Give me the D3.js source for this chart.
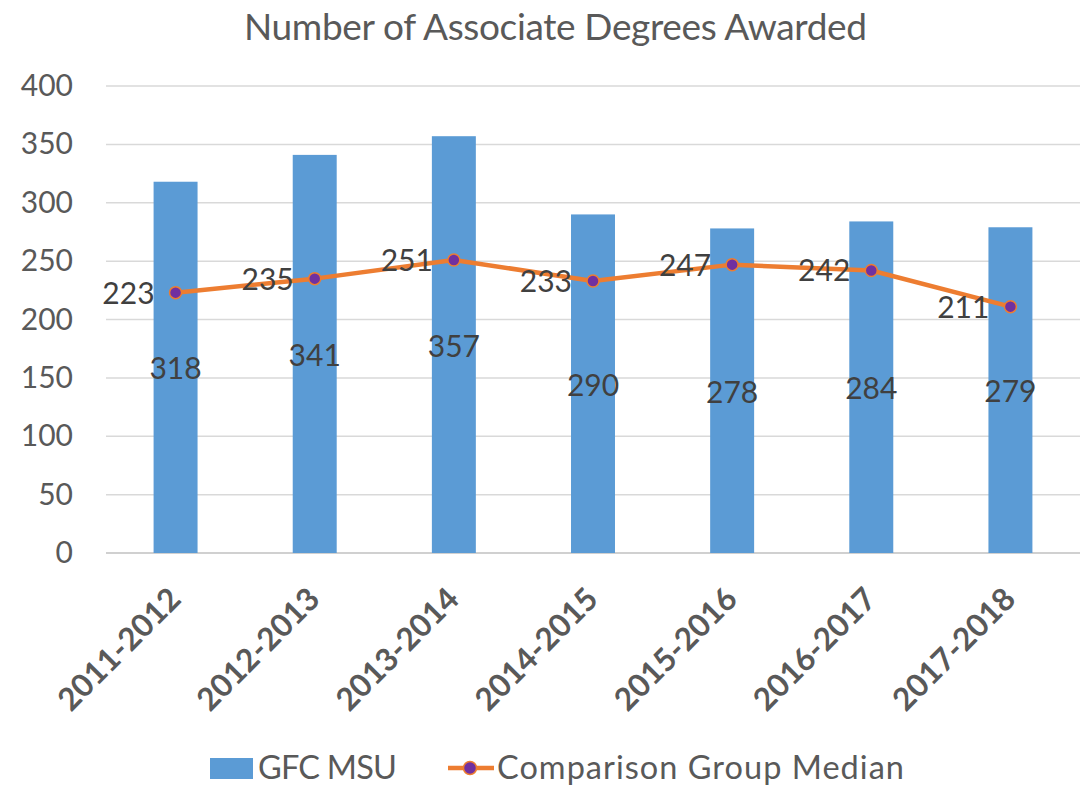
<!DOCTYPE html>
<html>
<head>
<meta charset="utf-8">
<title>Number of Associate Degrees Awarded</title>
<script src="https://d3js.org/d3.v7.min.js"></script>
<style>
  body { margin: 0; background: #fff; }
  text { font-family: Lato, "Open Sans", sans-serif; }
</style>
</head>
<body>
<svg width="1080" height="785"></svg>
<script>
const years = ["2011-2012", "2012-2013", "2013-2014", "2014-2015", "2015-2016", "2016-2017", "2017-2018"];
const gfcMsu = [318, 341, 357, 290, 278, 284, 279];
const groupMedian = [223, 235, 251, 233, 247, 242, 211];
const yTicks = [0, 50, 100, 150, 200, 250, 300, 350, 400];

const svg = d3.select("svg");
const margin = {left: 106, right: 0, top: 86, bottom: 232};
const width = 1080, height = 785;

const x = d3.scaleBand()
    .domain(years)
    .range([margin.left, width - margin.right])
    .paddingInner(0.684)
    .paddingOuter(0.342);

const y = d3.scaleLinear()
    .domain([0, 400])
    .range([height - margin.bottom, margin.top]);

// title
svg.append("text")
    .attr("x", 555.5)
    .attr("y", 40)
    .attr("text-anchor", "middle")
    .attr("fill", "#595959")
    .attr("font-size", 37)
    .attr("textLength", 623)
    .attr("lengthAdjust", "spacing")
    .text("Number of Associate Degrees Awarded");

// gridlines
svg.append("g")
    .selectAll("line")
    .data(yTicks)
    .join("line")
    .attr("x1", margin.left)
    .attr("x2", width)
    .attr("y1", d => y(d))
    .attr("y2", d => y(d))
    .attr("stroke", d => d === 0 ? "#d0d0d0" : "#d9d9d9")
    .attr("stroke-width", d => d === 0 ? 2 : 1.5);

// y axis labels
const yAxis = svg.append("g")
    .attr("transform", `translate(${margin.left - 33},0)`)
    .call(d3.axisLeft(y).tickValues(yTicks).tickSize(0).tickPadding(0));
yAxis.select(".domain").remove();
yAxis.selectAll("text")
    .attr("font-size", 30)
    .attr("fill", "#595959")
    .attr("font-family", "Lato, sans-serif");

// bars
svg.append("g")
    .selectAll("rect")
    .data(gfcMsu)
    .join("rect")
    .attr("x", (d, i) => x(years[i]))
    .attr("y", d => y(d))
    .attr("width", x.bandwidth())
    .attr("height", d => y(0) - y(d))
    .attr("fill", "#5B9BD5");

// bar labels
svg.append("g")
    .selectAll("text")
    .data(gfcMsu)
    .join("text")
    .attr("x", (d, i) => x(years[i]) + x.bandwidth() / 2)
    .attr("y", d => (y(0) + y(d)) / 2 + 12)
    .attr("text-anchor", "middle")
    .attr("font-size", 30)
    .attr("fill", "#404040")
    .text(d => d);

// median line
const cx = i => x(years[i]) + x.bandwidth() / 2;
const line = d3.line()
    .x((d, i) => cx(i))
    .y(d => y(d));

svg.append("path")
    .datum(groupMedian)
    .attr("d", line)
    .attr("fill", "none")
    .attr("stroke", "#ED7D31")
    .attr("stroke-width", 4.5)
    .attr("stroke-linejoin", "round");

svg.append("g")
    .selectAll("circle")
    .data(groupMedian)
    .join("circle")
    .attr("cx", (d, i) => cx(i))
    .attr("cy", d => y(d))
    .attr("r", 6)
    .attr("fill", "#7030A0")
    .attr("stroke", "#ED7D31")
    .attr("stroke-width", 1.5);

svg.append("g")
    .selectAll("text")
    .data(groupMedian)
    .join("text")
    .attr("x", (d, i) => cx(i) - 21)
    .attr("y", d => y(d) + 11)
    .attr("text-anchor", "end")
    .attr("font-size", 30)
    .attr("fill", "#404040")
    .text(d => d);

// x axis labels
svg.append("g")
    .selectAll("text")
    .data(years)
    .join("text")
    .attr("transform", d => `translate(${x(d) + x.bandwidth() / 2 + 7},${y(0) + 48}) rotate(-45)`)
    .attr("text-anchor", "end")
    .attr("font-size", 31.5)
    .attr("font-weight", "bold")
    .attr("fill", "#595959")
    .text(d => d);

// legend
const legend = svg.append("g");
legend.append("rect")
    .attr("x", 210).attr("y", 758)
    .attr("width", 43).attr("height", 21)
    .attr("fill", "#5B9BD5");
legend.append("text")
    .attr("x", 258).attr("y", 779)
    .attr("font-size", 32.5)
    .attr("fill", "#595959")
    .attr("textLength", 139)
    .attr("lengthAdjust", "spacing")
    .text("GFC MSU");
legend.append("line")
    .attr("x1", 448).attr("x2", 494)
    .attr("y1", 768).attr("y2", 768)
    .attr("stroke", "#ED7D31")
    .attr("stroke-width", 4.5);
legend.append("circle")
    .attr("cx", 470).attr("cy", 768).attr("r", 6.5)
    .attr("fill", "#7030A0")
    .attr("stroke", "#ED7D31")
    .attr("stroke-width", 1.5);
legend.append("text")
    .attr("x", 497).attr("y", 779)
    .attr("font-size", 32.5)
    .attr("fill", "#595959")
    .attr("textLength", 407)
    .attr("lengthAdjust", "spacing")
    .text("Comparison Group Median");
</script>
</body>
</html>
